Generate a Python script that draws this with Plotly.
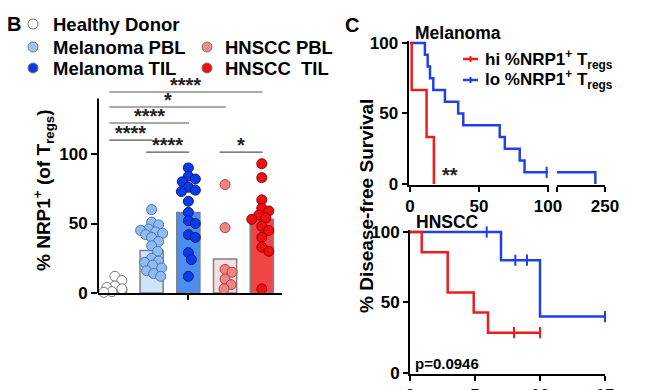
import numpy as np
import plotly.graph_objects as go

W, H = 650, 390
def fx(px): return px / W
def fy(py): return 1 - py / H

FONT = "Liberation Sans, Arial, sans-serif"

# ---------------- Panel B data ----------------
groups = ["Healthy Donor", "Melanoma PBL", "Melanoma TIL", "HNSCC PBL", "HNSCC  TIL"]
healthy = [12, 9, 5, 4, 3, 1, 0.5]
mel_pbl = [60, 51, 49, 46, 45, 44, 43, 42, 40, 37, 34, 30, 25, 23, 22, 20, 18, 16, 14, 12]
mel_til = [90, 84, 82, 80, 76, 74, 73, 66, 58, 52, 50, 42, 40, 29, 24, 12]
hn_pbl = [78, 47, 17, 15, 10, 6, 3]
hn_til = [93, 83, 67, 61, 59, 56, 54, 53, 48, 45, 40, 33, 30, 3]
bar_means = [3.5, 30.5, 58, 24.5, 53]
group_values = [healthy, mel_pbl, mel_til, hn_pbl, hn_til]
comparisons = [(0, 4, "****"), (0, 3, "*"), (0, 2, "****"), (0, 1, "****"), (1, 2, "****"), (3, 4, "*")]
comp_heights = [144.6, 133.8, 122.3, 110.0, 101.4, 101.4]

pt_fill = ["#ffffff", "#8fbcf2", "#0a3be6", "#f08484", "#ee1010"]
pt_line = ["#777777", "#4f74b0", "#0a1f80", "#a04848", "#990000"]
bar_fill = ["#ffffff", "#cfe2f8", "#4b8ef0", "#f8dede", "#f24646"]
legend_fill = ["#ffffff", "#9cc4f2", "#0a3be6", "#f08a8a", "#ee1010"]

# ---------------- Panel C data ----------------
mel_hi_t = [0, 1.2, 12, 17.3]
mel_hi_s = [100, 66.7, 33.3, 0]
mel_lo_t = [0, 10.8, 12.8, 14.5, 16.9, 25.3, 34.9, 38.6, 65, 68.7, 79.5, 83]
mel_lo_s = [100, 91.7, 83.3, 75, 66.7, 58.3, 50, 41.7, 33.3, 25, 16.7, 8.3]
mel_lo_late_t = [215, 243]
mel_lo_late_s = [8.3, 0]
mel_lo_cens_t = [99]
mel_lo_cens_s = [8.3]

hn_hi_t = [0, 0.9, 2.9, 4.9, 6.0, 10]
hn_hi_s = [100, 85.7, 57.1, 42.9, 28.6, 28.6]
hn_hi_cens_t = [8, 10]
hn_hi_cens_s = [28.6, 28.6]
hn_lo_t = [0, 7.0, 10.0, 15]
hn_lo_s = [100, 80, 40, 40]
hn_lo_cens_t = [5.9, 8.1, 9.0, 15]
hn_lo_cens_s = [100, 80, 80, 40]

RED = "#ee1c1c"
BLUE = "#2340e6"

# ---------------- geometry ----------------
bx0, bx1 = 98, 282
b_xrange = [-0.46, 4.55]
b_xscale = (bx1 - bx0) / (b_xrange[1] - b_xrange[0])
b_y0px = 293
b_yscale = 1.39
b_ymax = 160


def swarm(vals, xscale, yscale, dmin=7.5, maxoff=11):
    order = sorted(range(len(vals)), key=lambda i: -vals[i])
    cands = [0]
    for k in range(1, maxoff + 1):
        cands += [k, -k]
    placed = []
    res = [0.0] * len(vals)
    for i in order:
        y = vals[i] * yscale
        best, bestd = 0, -1
        for c in cands:
            d = min([np.hypot(c - px, y - py) for px, py in placed] or [1e9])
            if d >= dmin:
                best, bestd = c, d
                break
            if d > bestd:
                best, bestd = c, d
        placed.append((best, y))
        res[i] = best / xscale
    return res


fig = go.Figure()

fig.add_trace(go.Bar(
    x=list(range(5)), y=bar_means, width=0.63,
    marker=dict(color=bar_fill, line=dict(color="#808080", width=1.5)),
    xaxis="x", yaxis="y", hoverinfo="skip"))

for gi, vals in enumerate(group_values):
    offs = swarm(vals, b_xscale, b_yscale)
    fig.add_trace(go.Scatter(
        x=[gi + o for o in offs], y=vals, mode="markers", cliponaxis=False,
        marker=dict(size=10, color=pt_fill[gi], line=dict(color=pt_line[gi], width=1)),
        xaxis="x", yaxis="y"))

shapes = []
annotations = []

shapes.append(dict(type="line", xref="x domain", yref="y", x0=0, x1=0, y0=0, y1=140,
                   line=dict(color="black", width=2)))

for (a, b, lab), h in zip(comparisons, comp_heights):
    xa = a - 0.15
    xb = b + 0.02
    shapes.append(dict(type="line", xref="x", yref="y", x0=xa, x1=xb, y0=h, y1=h,
                       line=dict(color="#555555", width=1.2)))
    annotations.append(dict(xref="x", yref="y", x=(xa + xb) / 2, y=h, yshift=7,
                            text="<b>" + lab + "</b>", showarrow=False,
                            yanchor="middle", font=dict(family=FONT, size=20, color="#222")))

fig.add_trace(go.Scatter(x=mel_lo_t + [100], y=mel_lo_s + [mel_lo_s[-1]], mode="lines",
                         line=dict(shape="hv", color=BLUE, width=2.5), xaxis="x2", yaxis="y2"))
fig.add_trace(go.Scatter(x=mel_lo_cens_t, y=mel_lo_cens_s, mode="markers", cliponaxis=False,
                         marker=dict(symbol="line-ns", size=8, line=dict(color=BLUE, width=2)),
                         xaxis="x2", yaxis="y2"))
fig.add_trace(go.Scatter(x=mel_lo_late_t, y=mel_lo_late_s, mode="lines",
                         line=dict(shape="hv", color=BLUE, width=2.5), xaxis="x3", yaxis="y2"))
fig.add_trace(go.Scatter(x=mel_hi_t, y=mel_hi_s, mode="lines",
                         line=dict(shape="hv", color=RED, width=2.5), xaxis="x2", yaxis="y2"))

fig.add_trace(go.Scatter(x=hn_lo_t, y=hn_lo_s, mode="lines",
                         line=dict(shape="hv", color=BLUE, width=2.5), xaxis="x4", yaxis="y4"))
fig.add_trace(go.Scatter(x=hn_lo_cens_t, y=hn_lo_cens_s, mode="markers", cliponaxis=False,
                         marker=dict(symbol="line-ns", size=8, line=dict(color=BLUE, width=2)),
                         xaxis="x4", yaxis="y4"))
fig.add_trace(go.Scatter(x=hn_hi_t, y=hn_hi_s, mode="lines",
                         line=dict(shape="hv", color=RED, width=2.5), xaxis="x4", yaxis="y4"))
fig.add_trace(go.Scatter(x=hn_hi_cens_t, y=hn_hi_cens_s, mode="markers", cliponaxis=False,
                         marker=dict(symbol="line-ns", size=8, line=dict(color=RED, width=2)),
                         xaxis="x4", yaxis="y4"))

tickfont = dict(family=FONT, size=17, color="black", weight="bold")
common = dict(showgrid=False, zeroline=False, showline=True, linecolor="black", linewidth=2,
              ticks="outside", ticklen=5, tickwidth=2, tickcolor="black", tickfont=tickfont,
              automargin=False)

m_xs = 1.38
m_y0, m_ys = 184, 1.41
h_y0, h_ys = 373, 1.41

fig.update_layout(
    template="none",
    width=W, height=H, margin=dict(l=0, r=0, t=0, b=0, pad=0), autosize=False,
    paper_bgcolor="white", plot_bgcolor="white", showlegend=False,
    xaxis=dict(domain=[fx(bx0), fx(bx1)], range=b_xrange, anchor="y",
               tickvals=[2], ticktext=[""], **common),
    yaxis=dict(domain=[fy(b_y0px), fy(b_y0px - b_ymax * b_yscale)], range=[0, b_ymax], anchor="x",
               tickvals=[0, 50, 100], **{**common, "showline": False, "ticklen": 6}),
    xaxis2=dict(domain=[fx(410 - m_xs), fx(410 + 101 * m_xs)], range=[-1, 101], anchor="y2",
                tickvals=[0, 50, 100], **common),
    xaxis3=dict(domain=[fx(605 - 35 * m_xs), fx(605)], range=[215, 250], anchor="y2",
                tickvals=[215, 250], ticktext=["", "250"], **common),
    yaxis2=dict(domain=[fy(m_y0 + 0.5 * m_ys), fy(m_y0 - 101.5 * m_ys)], range=[-0.5, 101.5],
                anchor="x2", tickvals=[0, 50, 100], **common),
    xaxis4=dict(domain=[fx(410), fx(605)], range=[0, 15], anchor="y4",
                tickvals=[0, 5, 10, 15], **common),
    yaxis4=dict(domain=[fy(h_y0 + 0.5 * h_ys), fy(h_y0 - 101.5 * h_ys)], range=[-0.5, 101.5],
                anchor="x4", tickvals=[0, 50, 100], **common),
)

def txt(x, y, s, size, xanchor="left", angle=0, color="black"):
    annotations.append(dict(xref="paper", yref="paper", x=fx(x), y=fy(y), text=s,
                            showarrow=False, xanchor=xanchor, yanchor="middle", textangle=angle,
                            font=dict(family=FONT, size=size, color=color)))

txt(5, 24, "<b>B</b>", 20)
txt(343, 25, "<b>C</b>", 20)

leg_pos = [(33, 51, 24), (33, 51, 47), (33, 51, 68), (207, 223, 47), (207, 223, 68)]
for gi, (cx, tx, ty) in enumerate(leg_pos):
    r = 5
    shapes.append(dict(type="circle", xref="paper", yref="paper",
                       x0=fx(cx - r), x1=fx(cx + r), y0=fy(ty + r), y1=fy(ty - r),
                       fillcolor=legend_fill[gi], line=dict(color="#777777", width=1)))
    txt(tx, ty, "<b>" + groups[gi] + "</b>", 18.5)

txt(43, 191, "<b>% NRP1<sup>+</sup> (of T<sub>regs</sub>)</b>", 19, xanchor="center", angle=-90)

txt(366, 206, "<b>% Disease-free Survival</b>", 19, xanchor="center", angle=-90)
txt(413, 33, "<b>Melanoma</b>", 17.5)
txt(414, 222, "<b>HNSCC</b>", 17.5)
txt(413, 363, "<b>p=0.0946</b>", 15)
txt(440, 175, "<b>**</b>", 20, color="#222")

for (col, yy, lab) in [(RED, 59, "hi"), (BLUE, 80, "lo")]:
    shapes.append(dict(type="line", xref="paper", yref="paper", x0=fx(463), x1=fx(478),
                       y0=fy(yy), y1=fy(yy), line=dict(color=col, width=2.5)))
    shapes.append(dict(type="line", xref="paper", yref="paper", x0=fx(470.5), x1=fx(470.5),
                       y0=fy(yy - 3), y1=fy(yy + 3), line=dict(color=col, width=2)))
    txt(483, yy, "<b>" + lab + " %NRP1<sup>+</sup> T<sub>regs</sub></b>", 17)

fig.update_layout(shapes=shapes, annotations=annotations)
fig.write_html("out.html", config={"displayModeBar": False},
               post_script="document.body.style.margin='0px';")
